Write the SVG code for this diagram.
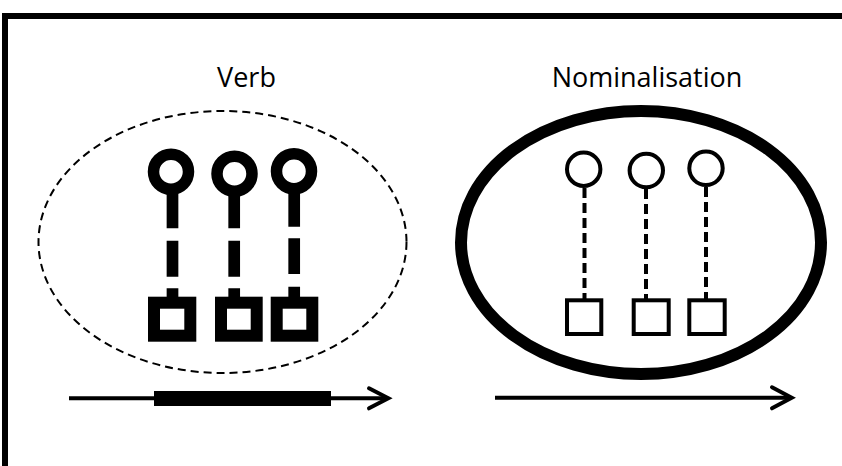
<svg xmlns="http://www.w3.org/2000/svg" width="842" height="466" viewBox="0 0 842 466">
<style>
.lbl{font-family:"Open Sans","Liberation Sans",sans-serif;font-size:27px;fill:#000;text-anchor:middle}
.vc{fill:none;stroke:#000;stroke-width:11.5}
.vs{stroke:#000;stroke-width:11.7;fill:none}
.vq{fill:none;stroke:#000;stroke-width:12}
.nc{fill:none;stroke:#000;stroke-width:4}
.nl{stroke:#000;stroke-width:4;stroke-dasharray:10 5;fill:none}
.ax{fill:none;stroke:#000;stroke-width:4}
.ah{fill:none;stroke:#000;stroke-width:4;stroke-linecap:round;stroke-linejoin:miter}
</style>
<rect width="842" height="466" fill="#fff"/>
<path d="M5,466 V16 H842" fill="none" stroke="#000" stroke-width="6"/>

<g id="verb">
<ellipse cx="222.5" cy="242" rx="184" ry="131" fill="none" stroke="#000" stroke-width="2" stroke-dasharray="8 5"/>
<text class="lbl" x="246.5" y="87">Verb</text>
</g>
<g id="verb-l1">
<circle class="vc" cx="171" cy="171.7" r="17.5"/>
<line class="vs" x1="172.5" y1="189" x2="172.5" y2="302" stroke-dasharray="39.3 12.4 36 11.6 30"/>
<rect class="vq" x="154" y="302.7" width="36.3" height="33"/>
</g>
<g id="verb-l2">
<circle class="vc" cx="234.5" cy="173.7" r="17.5"/>
<line class="vs" x1="234.2" y1="191" x2="234.2" y2="302" stroke-dasharray="37.3 12.4 36 11.6 30"/>
<rect class="vq" x="221" y="302.7" width="35.7" height="33"/>
</g>
<g id="verb-l3">
<circle class="vc" cx="294" cy="171.2" r="17.5"/>
<line class="vs" x1="294.2" y1="188" x2="294.2" y2="302" stroke-dasharray="38.7 11.6 35.7 12.7 30"/>
<rect class="vq" x="276.7" y="302.7" width="35.6" height="33"/>
</g>

<g id="nominalisation">
<ellipse cx="641" cy="242.5" rx="180" ry="131.5" fill="none" stroke="#000" stroke-width="12"/>
<text class="lbl" x="647" y="87">Nominalisation</text>
</g>
<g id="nom-l1">
<circle class="nc" cx="583.7" cy="169.2" r="16.7"/>
<line class="nl" x1="584.5" y1="188" x2="584.5" y2="300"/>
<rect class="nc" x="567" y="300.3" width="34.3" height="33.7"/>
</g>
<g id="nom-l2">
<circle class="nc" cx="646.3" cy="170.5" r="16.7"/>
<line class="nl" x1="646" y1="189" x2="646" y2="300"/>
<rect class="nc" x="633.7" y="300.3" width="35" height="33.7"/>
</g>
<g id="nom-l3">
<circle class="nc" cx="706" cy="168.3" r="16.7"/>
<line class="nl" x1="706" y1="187" x2="706" y2="300"/>
<rect class="nc" x="689.3" y="300.3" width="35.4" height="33.7"/>
</g>

<g id="connectors">
<line class="ax" x1="69" y1="398.3" x2="387" y2="398.3"/>
<rect x="154" y="391" width="177" height="15" fill="#000"/>
<polyline class="ah" points="369,388.3 388.3,398.3 369,408.3"/>
<line class="ax" x1="495" y1="397.7" x2="791" y2="397.7"/>
<polyline class="ah" points="772,387.3 791.7,397.7 772,408.3"/>
</g>
</svg>
